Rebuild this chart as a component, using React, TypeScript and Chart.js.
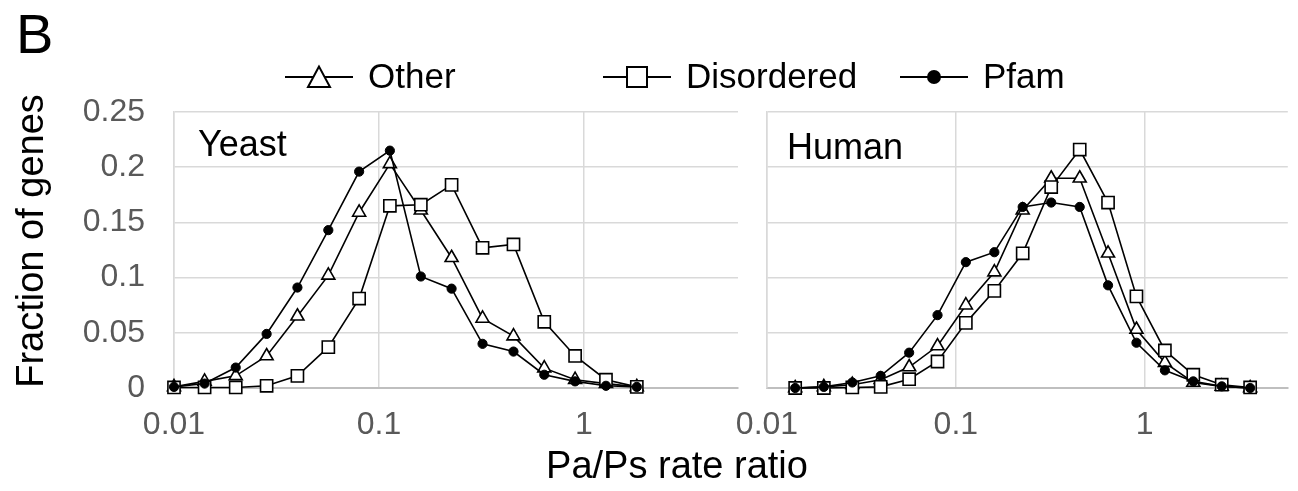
import React, { useEffect, useRef } from 'react';
import { Chart, registerables } from 'chart.js';

Chart.register(...registerables);

// ---------- data ----------
const yeastX = [0.01, 0.0141, 0.02, 0.0283, 0.04, 0.0566, 0.08, 0.113, 0.16, 0.226, 0.32, 0.453, 0.64, 0.905, 1.28, 1.81];
const yeastOther = [0.001, 0.006, 0.011, 0.029, 0.065, 0.102, 0.159, 0.203, 0.161, 0.118, 0.063, 0.047, 0.018, 0.0075, 0.004, 0.001];
const yeastDisordered = [0.0005, 0.0005, 0.0005, 0.002, 0.011, 0.037, 0.081, 0.165, 0.166, 0.184, 0.127, 0.13, 0.06, 0.029, 0.0075, 0.001];
const yeastPfam = [0.001, 0.004, 0.0185, 0.049, 0.091, 0.143, 0.196, 0.215, 0.101, 0.09, 0.04, 0.033, 0.012, 0.006, 0.002, 0.001];

const humanX = [0.0141, 0.02, 0.0283, 0.04, 0.0566, 0.08, 0.113, 0.16, 0.226, 0.32, 0.453, 0.64, 0.905, 1.28, 1.81, 2.56, 3.62];
const humanOther = [0.0, 0.001, 0.003, 0.0075, 0.019, 0.038, 0.075, 0.105, 0.161, 0.19, 0.19, 0.122, 0.053, 0.023, 0.005, 0.0015, 0.0];
const humanDisordered = [0.0, 0.0, 0.0005, 0.001, 0.008, 0.024, 0.059, 0.088, 0.122, 0.182, 0.216, 0.168, 0.083, 0.034, 0.012, 0.003, 0.0005];
const humanPfam = [0.0, 0.001, 0.005, 0.011, 0.032, 0.066, 0.114, 0.123, 0.164, 0.168, 0.164, 0.093, 0.041, 0.016, 0.006, 0.0015, 0.0];

const seriesNames = ['Other', 'Disordered', 'Pfam'];
const xTickValues = [0.01, 0.1, 1];
const xTickLabels = ['0.01', '0.1', '1'];
const yTickValues = [0, 0.05, 0.1, 0.15, 0.2, 0.25];
const yTickLabels = ['0', '0.05', '0.1', '0.15', '0.2', '0.25'];

const FONT = '"Liberation Sans", Arial, Helvetica, sans-serif';
const W = 1298;
const H = 491;
const GRID = '#d9d9d9';
const TICK_COLOR = '#595959';

function datasets(xs: number[], other: number[], dis: number[], pfam: number[]) {
  const pts = (ys: number[]) => xs.map((x, i) => ({ x, y: ys[i] }));
  const common = {
    borderColor: '#000',
    borderWidth: 1.6,
    tension: 0,
    clip: false as const,
    pointBorderColor: '#000',
    pointBorderWidth: 1.6,
  };
  return [
    { ...common, label: seriesNames[0], data: pts(other), order: 3, pointStyle: 'triangle', pointRadius: 7.5, pointBackgroundColor: '#fff' },
    { ...common, label: seriesNames[1], data: pts(dis), order: 2, pointStyle: 'rect', pointRadius: 8.6, pointBackgroundColor: '#fff' },
    { ...common, label: seriesNames[2], data: pts(pfam), order: 1, pointStyle: 'circle', pointRadius: 4.6, pointBackgroundColor: '#000', pointBorderWidth: 1 },
  ];
}

function makeOptions(opts: { left: number; right: number; xMax: number; showY: boolean; label: string; labelX: number; labelY: number }) {
  return {
    responsive: false,
    animation: false as const,
    events: [],
    layout: { padding: { left: 0, right: opts.right, top: 112, bottom: 0 } },
    plugins: {
      legend: { display: false },
      tooltip: { enabled: false },
      panelLabel: { text: opts.label, x: opts.labelX, y: opts.labelY },
    },
    scales: {
      x: {
        type: 'logarithmic',
        min: 0.01,
        max: opts.xMax,
        afterBuildTicks: (s: any) => {
          s.ticks = xTickValues.map((v) => ({ value: v }));
        },
        afterFit: (s: any) => {
          s.height = H - 388;
        },
        ticks: {
          autoSkip: false,
          maxRotation: 0,
          padding: 18,
          color: TICK_COLOR,
          font: { family: FONT, size: 32 },
          callback: (_v: any, i: number) => xTickLabels[i],
        },
        grid: { color: GRID, lineWidth: 1.5, drawTicks: false },
        border: { color: '#bfbfbf', width: 2 },
      },
      y: {
        type: 'linear',
        min: 0,
        max: 0.25,
        afterBuildTicks: (s: any) => {
          s.ticks = yTickValues.map((v) => ({ value: v }));
        },
        afterFit: (s: any) => {
          s.width = opts.left;
        },
        ticks: {
          display: opts.showY,
          padding: 29,
          color: TICK_COLOR,
          font: { family: FONT, size: 32 },
          callback: (_v: any, i: number) => yTickLabels[i],
        },
        grid: { color: GRID, lineWidth: 1.5, drawTicks: false },
        border: { color: GRID, width: 1.5 },
      },
    },
  };
}

const panelLabelPlugin = {
  id: 'panelLabel',
  afterDraw(chart: any, _args: any, o: any) {
    const ctx = chart.ctx;
    ctx.save();
    ctx.fillStyle = '#000';
    ctx.font = `36px ${FONT}`;
    ctx.textAlign = 'left';
    ctx.textBaseline = 'alphabetic';
    ctx.fillText(o.text, o.x, o.y);
    ctx.restore();
  },
};

function drawMarker(ctx: CanvasRenderingContext2D, kind: string, cx: number, cy: number) {
  ctx.beginPath();
  if (kind === 'triangle') {
    ctx.moveTo(cx, cy - 10.5);
    ctx.lineTo(cx - 11, cy + 10);
    ctx.lineTo(cx + 11, cy + 10);
    ctx.closePath();
    ctx.fillStyle = '#fff';
    ctx.fill();
    ctx.stroke();
  } else if (kind === 'rect') {
    ctx.rect(cx - 10, cy - 10, 20, 20);
    ctx.fillStyle = '#fff';
    ctx.fill();
    ctx.stroke();
  } else {
    ctx.arc(cx, cy, 7, 0, Math.PI * 2);
    ctx.fillStyle = '#000';
    ctx.fill();
  }
}

const decorPlugin = {
  id: 'decor',
  afterDraw(chart: any) {
    const ctx: CanvasRenderingContext2D = chart.ctx;
    ctx.save();
    ctx.fillStyle = '#000';
    ctx.textAlign = 'left';
    ctx.textBaseline = 'alphabetic';
    ctx.font = `56px ${FONT}`;
    ctx.fillText('B', 16, 53);

    // legend
    const ly = 77;
    const items = [
      { kind: 'triangle', x0: 285, text: seriesNames[0] },
      { kind: 'rect', x0: 603, text: seriesNames[1] },
      { kind: 'circle', x0: 900, text: seriesNames[2] },
    ];
    ctx.font = `35px ${FONT}`;
    ctx.textBaseline = 'middle';
    for (const it of items) {
      ctx.strokeStyle = '#000';
      ctx.lineWidth = 2;
      ctx.beginPath();
      ctx.moveTo(it.x0, ly);
      ctx.lineTo(it.x0 + 68, ly);
      ctx.stroke();
      drawMarker(ctx, it.kind, it.x0 + 34, ly);
      ctx.fillStyle = '#000';
      ctx.fillText(it.text, it.x0 + 83, ly + 1);
    }

    // x axis title
    ctx.font = `38px ${FONT}`;
    ctx.textAlign = 'center';
    ctx.textBaseline = 'alphabetic';
    ctx.fillText('Pa/Ps rate ratio', 677, 478);

    // y axis title
    ctx.translate(33, 241);
    ctx.rotate(-Math.PI / 2);
    ctx.textBaseline = 'middle';
    ctx.fillText('Fraction of genes', 0, 0);
    ctx.restore();
  },
};

export default function App() {
  const leftRef = useRef<HTMLCanvasElement>(null);
  const rightRef = useRef<HTMLCanvasElement>(null);

  useEffect(() => {
    const left = new Chart(leftRef.current as HTMLCanvasElement, {
      type: 'line',
      data: { datasets: datasets(yeastX, yeastOther, yeastDisordered, yeastPfam) as any },
      options: makeOptions({ left: 174, right: W - 738, xMax: 5.64, showY: true, label: 'Yeast', labelX: 198, labelY: 156 }) as any,
      plugins: [panelLabelPlugin, decorPlugin],
    });
    const right = new Chart(rightRef.current as HTMLCanvasElement, {
      type: 'line',
      data: { datasets: datasets(humanX, humanOther, humanDisordered, humanPfam) as any },
      options: makeOptions({ left: 767, right: 0, xMax: 5.73, showY: false, label: 'Human', labelX: 787, labelY: 159 }) as any,
      plugins: [panelLabelPlugin],
    });
    return () => {
      left.destroy();
      right.destroy();
    };
  }, []);

  return (
    <div style={{ position: 'fixed', left: 0, top: 0, width: W, height: H, background: '#fff' }}>
      <canvas ref={leftRef} width={W} height={H} style={{ position: 'absolute', left: 0, top: 0 }} />
      <canvas ref={rightRef} width={W} height={H} style={{ position: 'absolute', left: 0, top: 0 }} />
    </div>
  );
}
